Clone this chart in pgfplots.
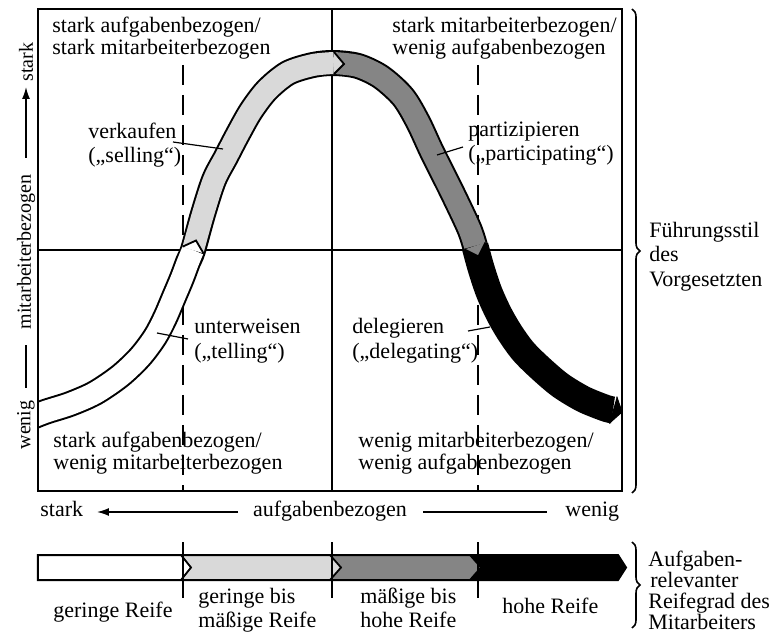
\documentclass[border=0pt]{standalone}
\usepackage{fontspec}
\setmainfont{Liberation Serif}
\usepackage{pgfplots}
\pgfplotsset{compat=1.18}
\usetikzlibrary{decorations.pathreplacing,arrows.meta}
\definecolor{lightfill}{gray}{0.85}
\definecolor{midfill}{gray}{0.52}
\begin{document}
\begin{tikzpicture}[
  lab/.style={font=\fontsize{11}{13}\selectfont, inner sep=0pt, anchor=base west},
  ylab/.style={font=\fontsize{10}{12}\selectfont, inner sep=0pt, rotate=90},
]
\begin{axis}[
  at={(0pt,0pt)}, anchor=south west,
  scale only axis, width=292pt, height=241pt,
  xmin=0, xmax=584, ymin=0, ymax=482,
  ticks=none, axis line style={line width=1pt},
  clip mode=individual, axis on top,
]
% quadrant lines
\addplot[black, line width=0.8pt] coordinates {(294,0) (294,482)};
\addplot[black, line width=0.8pt] coordinates {(0,241) (584,241)};
\addplot[black, line width=0.9pt, dash pattern=on 10pt off 5pt] coordinates {(145,426) (145,0)};
\addplot[black, line width=0.9pt, dash pattern=on 10pt off 5pt] coordinates {(440,426) (440,0)};
% band outline (telling, selling, participating)
\addplot[black, line width=13pt, smooth, line join=round] coordinates {
 (-13,71) (7,79) (32,87) (57,98) (82,115) (102,134) (117,154) (127,173) (136,194) (144,213) (150,229) (155,241)
 (165,277) (176,311) (188,334) (200,357) (213,380) (229,401) (250,418) (275,426) (296,428)
 (320,425) (343,414) (365,394) (380,369) (394,339) (414,299) (431,263) (437,245)};
% telling (white)
\addplot[white, line width=11pt, smooth] coordinates {
 (-13,71) (7,79) (32,87) (57,98) (82,115) (102,134) (117,154) (127,173) (136,194) (144,213) (150,229) (155,241)};
% selling (light)
\addplot[lightfill, line width=11pt, smooth] coordinates {
 (155,241) (165,277) (176,311) (188,334) (200,357) (213,380) (229,401) (250,418) (275,426) (296,428)};
% participating (medium)
\addplot[midfill, line width=11pt, smooth] coordinates {
 (296,428) (320,425) (343,414) (365,394) (380,369) (394,339) (414,299) (431,263) (437,245)};
% delegating (black)
\addplot[black, line width=13.5pt, smooth] coordinates {
 (437,245) (443,223) (451,199) (461,177) (472,158) (485,140) (501,124) (522,106) (545,92) (567,83) (575,81)};
% chevrons
\addplot[fill=white, draw=black, line width=0.9pt] coordinates {(165.5,237.7) (158,250.5) (144.5,244.3)};
\addplot[fill=lightfill, draw=black, line width=0.9pt] coordinates {(296,439) (306,427) (296,417)};
\addplot[fill=midfill, draw=black, line width=0.9pt] coordinates {(447.5,248.5) (440.5,234.5) (426.5,241.5)};
\addplot[fill=black, draw=black, line width=0.5pt] coordinates {(578.8,94.4) (584,79) (571.2,67.6)};
% leader lines
\addplot[black, line width=0.6pt] coordinates {(135,349) (185,342)};
\addplot[black, line width=0.6pt] coordinates {(425,344) (399,336)};
\addplot[black, line width=0.6pt] coordinates {(119,158) (150,152)};
\addplot[black, line width=0.6pt] coordinates {(430,160) (452,164)};
% quadrant texts
\node[lab] at (axis cs:14,458) {stark aufgabenbezogen/};
\node[lab] at (axis cs:14,436) {stark mitarbeiterbezogen};
\node[lab] at (axis cs:354,458) {stark mitarbeiterbezogen/};
\node[lab] at (axis cs:354,436) {wenig aufgabenbezogen};
\node[lab] at (axis cs:15,44) {stark aufgabenbezogen/};
\node[lab] at (axis cs:15,21) {wenig mitarbeiterbezogen};
\node[lab] at (axis cs:320,44) {wenig mitarbeiterbezogen/};
\node[lab] at (axis cs:320,21) {wenig aufgabenbezogen};
% style labels
\node[lab] at (axis cs:50,352) {verkaufen};
\node[lab] at (axis cs:50,328) {(„selling“)};
\node[lab] at (axis cs:430,354) {partizipieren};
\node[lab] at (axis cs:430,330) {(„participating“)};
\node[lab] at (axis cs:156,157) {unterweisen};
\node[lab] at (axis cs:156,133) {(„telling“)};
\node[lab] at (axis cs:314,157) {delegieren};
\node[lab] at (axis cs:314,133) {(„delegating“)};
% right
\draw[decorate, decoration={brace, amplitude=4pt}, line width=0.8pt] (axis cs:594,482) -- (axis cs:594,-2);
\node[lab] at (axis cs:611,253) {Führungsstil};
\node[lab] at (axis cs:611,229) {des};
\node[lab] at (axis cs:611,205) {Vorgesetzten};
% y label
\node[ylab] at (axis cs:-12,429) {stark};
\draw[line width=0.7pt, -{Latex[length=6pt,width=4pt]}] (axis cs:-12,333) -- (axis cs:-12,404);
\node[ylab] at (axis cs:-12,239) {mitarbeiterbezogen};
\draw[line width=0.7pt] (axis cs:-12,103) -- (axis cs:-12,146);
\node[ylab] at (axis cs:-12,66) {wenig};
\end{axis}

\begin{axis}[
  at={(0pt,0pt)}, anchor=north west,
  scale only axis, width=292pt, height=75pt,
  xmin=0, xmax=584, ymin=-150, ymax=0,
  hide axis, clip=false,
]
% bar segments
\addplot[fill=black, draw=none] coordinates {(432,-64) (580,-64) (588,-76.5) (580,-89) (432,-89)};
\addplot[fill=midfill, draw=none] coordinates {(292,-64) (432,-64) (443,-76.5) (432,-89) (292,-89)};
\addplot[fill=lightfill, draw=none] coordinates {(143,-64) (292,-64) (303,-76.5) (292,-89) (143,-89)};
\addplot[fill=white, draw=none] coordinates {(0,-64) (143,-64) (153,-76.5) (143,-89) (0,-89)};
\addplot[black, line width=1pt] coordinates {(0,-64) (580,-64) (588,-76.5) (580,-89) (0,-89)} -- cycle;
\addplot[black, line width=0.9pt] coordinates {(143,-64) (153,-76.5) (143,-89)};
\addplot[black, line width=0.9pt] coordinates {(292,-64) (303,-76.5) (292,-89)};
\addplot[black, line width=0.9pt] coordinates {(432,-64) (443,-76.5) (432,-89)};
% ticks
\addplot[black, line width=1pt] coordinates {(145,-51) (145,-107)};
\addplot[black, line width=1pt] coordinates {(294,-51) (294,-107)};
\addplot[black, line width=1pt] coordinates {(440,-51) (440,-107)};
% x label
\node[lab] at (axis cs:2,-25) {stark};
\node[lab, anchor=base] at (axis cs:292,-25) {aufgabenbezogen};
\node[lab] at (axis cs:527,-25) {wenig};
\draw[line width=0.7pt, -{Latex[length=6pt,width=4pt]}] (axis cs:200,-21) -- (axis cs:59,-21);
\draw[line width=0.7pt] (axis cs:385,-21) -- (axis cs:509,-21);
% bar labels
\node[lab] at (axis cs:15,-126) {geringe Reife};
\node[lab] at (axis cs:160,-112) {geringe bis};
\node[lab] at (axis cs:160,-136) {mäßige Reife};
\node[lab] at (axis cs:322,-112) {mäßige bis};
\node[lab] at (axis cs:322,-136) {hohe Reife};
\node[lab] at (axis cs:464,-122) {hohe Reife};
\draw[decorate, decoration={brace, amplitude=4pt}, line width=0.8pt] (axis cs:594,-51) -- (axis cs:594,-137);
\node[lab] at (axis cs:610,-75) {Aufgaben-};
\node[lab] at (axis cs:612,-96) {relevanter};
\node[lab] at (axis cs:610,-117) {Reifegrad des};
\node[lab] at (axis cs:610,-138) {Mitarbeiters};
\end{axis}
\pgfresetboundingbox
\path[use as bounding box] (-19pt,-71pt) rectangle (370pt,245.5pt);
\end{tikzpicture}
\end{document}
